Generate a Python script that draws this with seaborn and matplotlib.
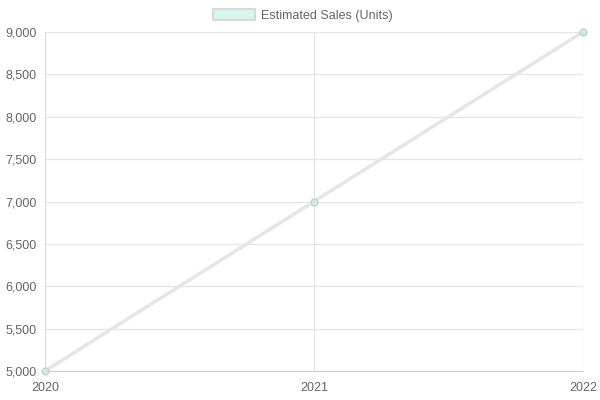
import matplotlib
matplotlib.use("Agg")
import matplotlib.pyplot as plt
import matplotlib.ticker as mticker
from matplotlib.patches import Patch
import seaborn as sns
import pandas as pd

# Data
years = ["2020", "2021", "2022"]
sales = [5000, 7000, 9000]

df = pd.DataFrame({"year": [0, 1, 2], "sales": sales})

sns.set_style("white")
plt.rcParams["font.family"] = ["Liberation Sans", "DejaVu Sans"]

fig = plt.figure(figsize=(6, 4), dpi=100)
ax = fig.add_axes([45 / 600, 1 - 371 / 400, 538 / 600, 339 / 400])

sns.lineplot(data=df, x="year", y="sales", ax=ax, color="#e6e6e6", linewidth=2.6,
             marker="o", markersize=5, markerfacecolor="#cfeae4",
             markeredgecolor="#c5d3d0", markeredgewidth=1, zorder=3, clip_on=False)

ax.set_xlim(0, 2)
ax.set_ylim(5000, 9000)
ax.set_xticks([0, 1, 2])
ax.set_xticklabels(years)
ax.yaxis.set_major_locator(mticker.MultipleLocator(500))
ax.yaxis.set_major_formatter(mticker.FuncFormatter(lambda v, p: f"{int(v):,}"))
ax.set_xlabel("")
ax.set_ylabel("")

ax.grid(True, color="#e6e6e6", linewidth=1)
for side in ["top", "right"]:
    ax.spines[side].set_visible(False)
ax.spines["left"].set_color("#e0e0e0")
ax.spines["bottom"].set_color("#d0d0d0")
ax.tick_params(axis="both", colors="#666666", labelsize=9, length=0, pad=6)
ax.tick_params(axis="x", pad=8)
ax.set_axisbelow(True)

handle = Patch(facecolor="#d5f5ee", edgecolor="#d9d9d9", linewidth=1.5)
fig.legend([handle], ["Estimated Sales (Units)"], loc="upper center",
           bbox_to_anchor=(0.505, 1.005), frameon=False, fontsize=9,
           handlelength=3.3, handleheight=0.9, handletextpad=0.5,
           labelcolor="#666666")

fig.savefig("out.png", dpi=100)
